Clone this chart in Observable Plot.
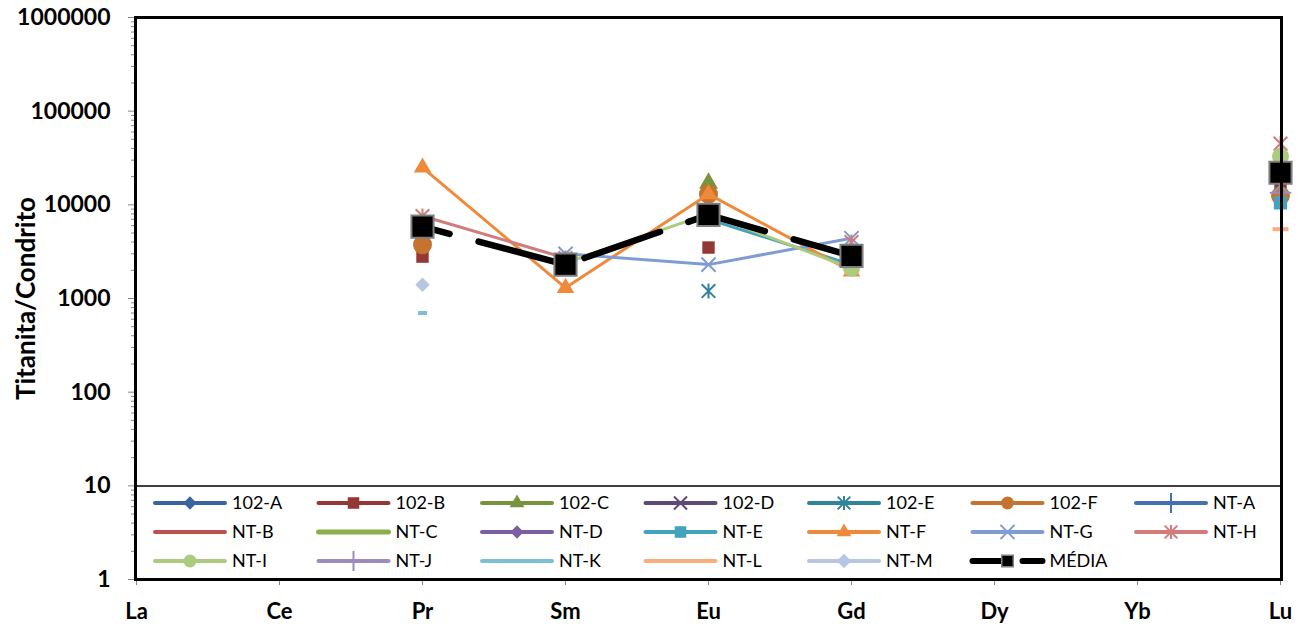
<!DOCTYPE html>
<html>
<head>
<meta charset="utf-8">
<script src="https://cdn.jsdelivr.net/npm/d3@7"></script>
<script src="https://cdn.jsdelivr.net/npm/@observablehq/plot@0.6"></script>
<style>
  html, body { margin: 0; padding: 0; background: #fff; }
  #chart { width: 1311px; height: 629px; }
</style>
</head>
<body>
<div id="chart"></div>
<script>
// Rare-earth elements on the x axis
const elements = ["La", "Ce", "Pr", "Sm", "Eu", "Gd", "Dy", "Yb", "Lu"];

// Titanite / chondrite ratios per sample (null = not analysed)
//              La    Ce    Pr     Sm    Eu     Gd    Dy    Yb    Lu
const s102A = [null, null, null,  null, null,  null, null, null, null];
const s102B = [null, null, 2800,  null, 3500,  null, null, null, 15500];
const s102C = [null, null, 4500,  null, 17000, null, null, null, null];
const s102D = [null, null, null,  null, null,  null, null, null, null];
const s102E = [null, null, null,  null, 1200,  null, null, null, null];
const s102F = [null, null, 3750,  null, 13000, null, null, null, 12500];
const sNTA  = [null, null, null,  null, null,  null, null, null, null];
const sNTB  = [null, null, 1400,  null, null,  null, null, null, null];
const sNTC  = [null, null, null,  null, null,  null, null, null, null];
const sNTD  = [null, null, null,  null, null,  null, null, null, null];
const sNTE  = [null, null, null,  null, 7000,  2300, null, null, 10500];
const sNTF  = [null, null, 25000, 1300, 13000, 1950, null, null, 30000];
const sNTG  = [null, null, null,  3000, 2300,  4400, null, null, 16000];
const sNTH  = [null, null, 7600,  2700, null,  4000, null, null, 45000];
const sNTI  = [null, null, null,  2400, 8000,  2100, null, null, 33000];
const sNTJ  = [null, null, null,  null, null,  null, null, null, 13500];
const sNTK  = [null, null, 700,   null, null,  null, null, null, null];
const sNTL  = [null, null, null,  null, null,  null, null, null, 5500];
const sNTM  = [null, null, 1400,  null, null,  null, null, null, null];
const media = [null, null, 5850,  2300, 7800,  2850, null, null, 22000];

// y-axis ticks
const majorTicks = [1, 10, 100, 1000, 10000, 100000, 1000000];
const minorTicks = majorTicks.slice(0, -1).flatMap(d => [2, 3, 4, 5, 6, 7, 8, 9].map(k => k * d));

// Short horizontal bar marker
const dash = {
  draw(ctx, size) {
    const w = Math.sqrt(size);
    ctx.rect(-w / 2, -2, w, 4);
  }
};
// Star marker: an x crossed by a vertical stroke
const star = {
  draw(ctx, size) {
    const h = Math.sqrt(size) * 0.55;
    ctx.moveTo(-h, -h); ctx.lineTo(h, h);
    ctx.moveTo(h, -h); ctx.lineTo(-h, h);
    ctx.moveTo(0, -h * 1.1); ctx.lineTo(0, h * 1.1);
  }
};

// Per-series styling
const series = [
  {name: "102-A", values: s102A, color: "#3A64A0", symbol: "diamond2", r: 6,   width: 3},
  {name: "102-B", values: s102B, color: "#953735", symbol: "square",   r: 7,   width: 3},
  {name: "102-C", values: s102C, color: "#77933C", symbol: "triangle", r: 7,   width: 3},
  {name: "102-D", values: s102D, color: "#5F497A", symbol: "times",    r: 6,   width: 3, stroked: true},
  {name: "102-E", values: s102E, color: "#31849B", symbol: star,       r: 7,   width: 3, stroked: true},
  {name: "102-F", values: s102F, color: "#C5732E", symbol: "circle",   r: 9.5, width: 3},
  {name: "NT-A",  values: sNTA,  color: "#4472B0", symbol: "plus",     r: 6.5, width: 3, stroked: true},
  {name: "NT-B",  values: sNTB,  color: "#C0504D", symbol: dash,       r: 4.5, width: 3},
  {name: "NT-C",  values: sNTC,  color: "#8AB04A", symbol: null,       r: 0,   width: 4},
  {name: "NT-D",  values: sNTD,  color: "#7D5FA0", symbol: "diamond2", r: 6,   width: 3},
  {name: "NT-E",  values: sNTE,  color: "#43A2BE", symbol: "square",   r: 7.5, width: 3},
  {name: "NT-F",  values: sNTF,  color: "#F08A3B", symbol: "triangle", r: 6.5, width: 3},
  {name: "NT-G",  values: sNTG,  color: "#7E9CD1", symbol: "times",    r: 6.5, width: 3, stroked: true},
  {name: "NT-H",  values: sNTH,  color: "#D27B79", symbol: star,       r: 7,   width: 3, stroked: true},
  {name: "NT-I",  values: sNTI,  color: "#ADCB7F", symbol: "circle",   r: 8.5, width: 3},
  {name: "NT-J",  values: sNTJ,  color: "#9E8BBE", symbol: "plus",     r: 7,   width: 3, stroked: true},
  {name: "NT-K",  values: sNTK,  color: "#7DBFD5", symbol: dash,       r: 5,   width: 3},
  {name: "NT-L",  values: sNTL,  color: "#F9AE7B", symbol: dash,       r: 9,   width: 3},
  {name: "NT-M",  values: sNTM,  color: "#B7C6E2", symbol: "diamond2", r: 6.5, width: 3},
  {name: "MÉDIA", values: media, color: "#000000", symbol: "square",   r: 12.5, width: 6.5, mean: true}
];

const toRows = s => elements.map((el, i) => ({el, v: s.values[i], series: s.name}));

const seriesMarks = series.flatMap(s => {
  const rows = toRows(s);
  const pts = rows.filter(d => d.v != null);
  const line = Plot.line(rows, {
    x: "el", y: "v",
    stroke: s.color,
    strokeWidth: s.width,
    strokeLinecap: "round",
    strokeLinejoin: "round",
    strokeDasharray: s.mean ? "80,30" : null,
    strokeDashoffset: s.mean ? 52 : null
  });
  if (!s.symbol) return [line];
  const dotOpts = s.mean
    ? {x: "el", y: "v", symbol: "square", r: s.r, fill: "#000", stroke: "#7F7F7F", strokeWidth: 2}
    : s.stroked
      ? {x: "el", y: "v", symbol: s.symbol, r: s.r, fill: "none", stroke: s.color, strokeWidth: 2}
      : {x: "el", y: "v", symbol: s.symbol, r: s.r, fill: s.color, stroke: "none"};
  return [line, Plot.dot(pts, dotOpts)];
});

const chart = Plot.plot({
  width: 1311,
  height: 629,
  marginLeft: 135,
  marginRight: 30,
  marginTop: 17,
  marginBottom: 50,
  style: {fontFamily: "Lato, 'Open Sans', sans-serif", background: "#fff", color: "#000"},
  x: {type: "point", domain: elements, padding: 0},
  y: {type: "log", domain: [1, 1000000]},
  marks: [
    Plot.axisY({ticks: minorTicks, tickSize: 4, stroke: "#868686", fill: "none", label: null}),
    Plot.axisY({ticks: majorTicks, tickSize: 7, tickPadding: 18, stroke: "#868686",
                tickFormat: d => String(d), fontSize: 23, fontWeight: "bold", label: null}),
    Plot.axisX({tickSize: 6, tickPadding: 18, stroke: "#868686", fontSize: 22, fontWeight: "bold", label: null}),
    Plot.text(["Titanita/Condrito"], {
      text: d => d, frameAnchor: "left", textAnchor: "middle", dx: -109, rotate: -90,
      fontSize: 26, fontWeight: "bold", fill: "#000"
    }),
    ...seriesMarks,
    Plot.frame({stroke: "#000", strokeWidth: 3})
  ]
});

document.getElementById("chart").appendChild(chart);

// Legend box inside the bottom of the plot area
const symbolTypes = {
  diamond2: d3.symbolDiamond2, square: d3.symbolSquare, triangle: d3.symbolTriangle,
  times: d3.symbolTimes, asterisk: d3.symbolAsterisk, circle: d3.symbolCircle, plus: d3.symbolPlus
};
const svg = d3.select(chart);
const legend = svg.insert("g", "[aria-label=frame]").attr("class", "legend");
legend.append("rect")
  .attr("x", 135).attr("y", 486).attr("width", 1146).attr("height", 93)
  .attr("fill", "#fff").attr("stroke", "#000").attr("stroke-width", 1.5);

series.forEach((s, i) => {
  const col = i % 7, row = Math.floor(i / 7);
  const x0 = 155 + col * 163.5, y0 = 503 + row * 29, len = 70;
  const g = legend.append("g");
  g.append("line")
    .attr("x1", x0).attr("x2", x0 + len).attr("y1", y0).attr("y2", y0)
    .attr("stroke", s.color)
    .attr("stroke-width", s.mean ? 6 : (s.name === "NT-C" ? 5 : 4))
    .attr("stroke-linecap", "round")
    .attr("stroke-dasharray", s.mean ? "32,18" : null);
  if (s.symbol) {
    const type = typeof s.symbol === "string" ? symbolTypes[s.symbol] : s.symbol;
    const rr = s.mean ? 6.5 : (s.symbol === "triangle" ? 5.5 : Math.min(s.r, 6.5));
    const path = d3.symbol().type(type).size(Math.PI * rr * rr)();
    const p = g.append("path").attr("d", path).attr("transform", `translate(${x0 + len / 2},${y0})`);
    if (s.mean) p.attr("fill", "#000").attr("stroke", "#7F7F7F").attr("stroke-width", 1.5);
    else if (s.stroked) p.attr("fill", "none").attr("stroke", s.color).attr("stroke-width", 2);
    else p.attr("fill", s.color);
  }
  g.append("text")
    .attr("x", x0 + len + 7).attr("y", y0).attr("dy", "0.35em")
    .attr("text-anchor", "start")
    .attr("font-size", 18).attr("font-family", "Lato, 'Open Sans', sans-serif")
    .attr("fill", "#000")
    .text(s.name);
});
</script>
</body>
</html>
